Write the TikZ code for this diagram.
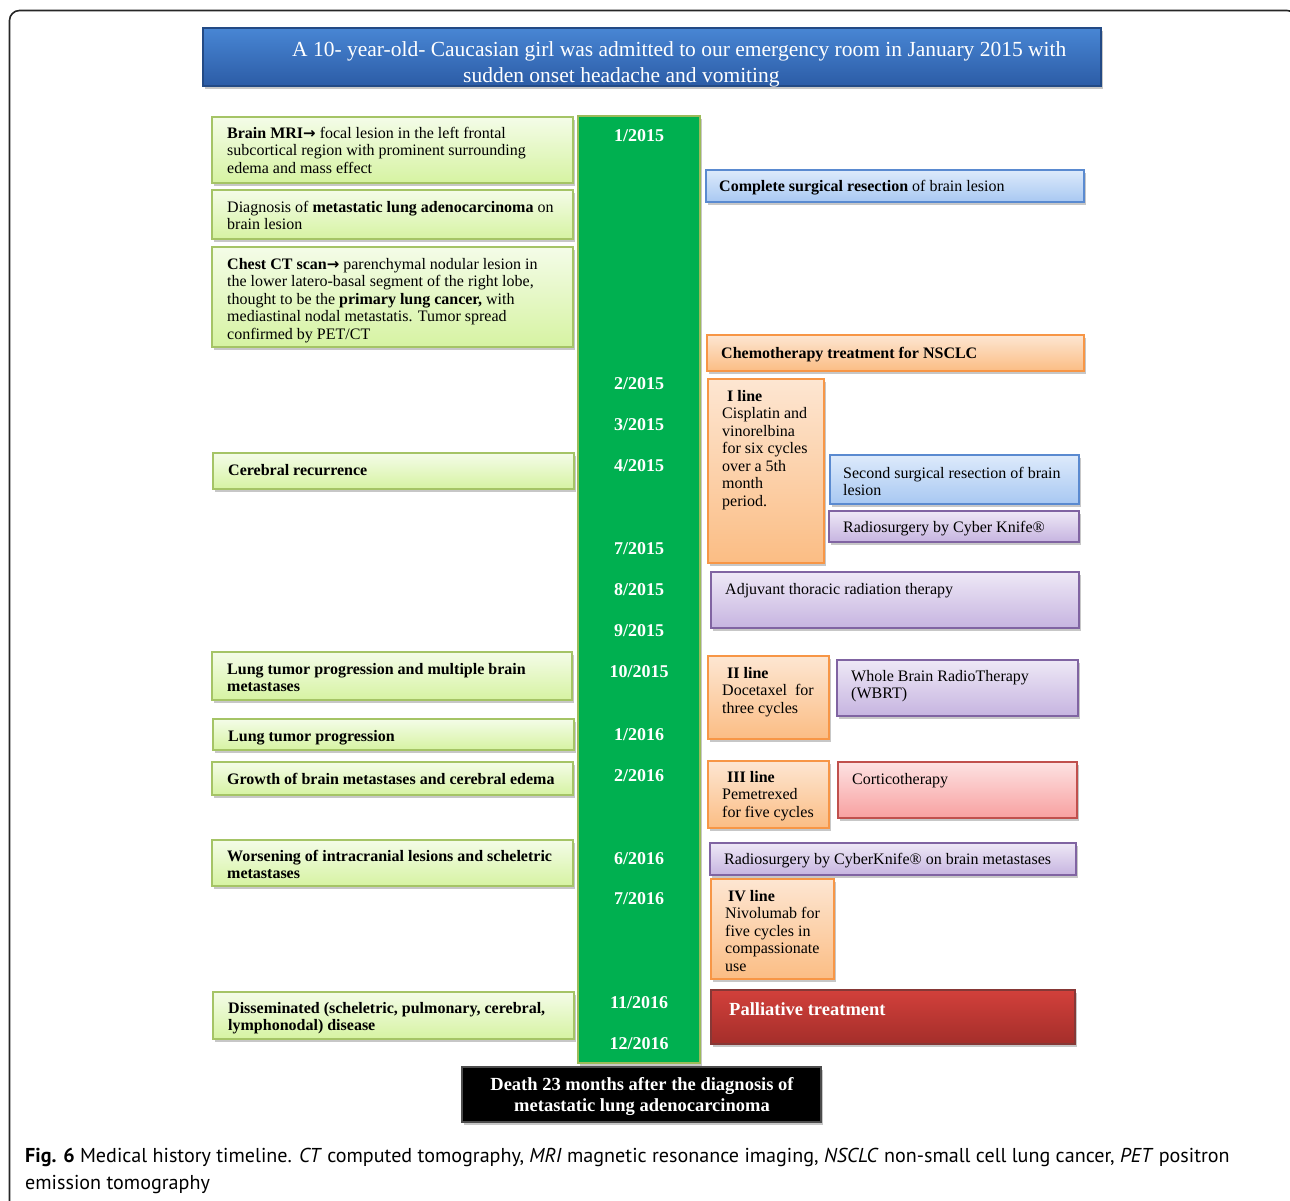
\documentclass[tikz,border=0pt]{standalone}
\usepackage{fontspec}
\setmainfont{Liberation Serif}
\newfontfamily\capfont{PT Sans}
\newfontfamily\arrfont{DejaVu Sans}
\newcommand{\rarr}{{\arrfont\bfseries\fontsize{15}{17.5}\selectfont →}}
\usetikzlibrary{shadows,calc}
\definecolor{gtop}{HTML}{F4FCE8}
\definecolor{gbot}{HTML}{D6F3A2}
\definecolor{gbrd}{HTML}{A5C466}
\definecolor{otop}{HTML}{FDE6D2}
\definecolor{obot}{HTML}{FBBD84}
\definecolor{obrd}{HTML}{F79646}
\definecolor{btop}{HTML}{DDEAFB}
\definecolor{bbot}{HTML}{A8C8F2}
\definecolor{bbrd}{HTML}{5A8AD0}
\definecolor{ptop}{HTML}{EEE8F6}
\definecolor{pbot}{HTML}{C6B4E0}
\definecolor{pbrd}{HTML}{8064A2}
\definecolor{rtop}{HTML}{FDE2E2}
\definecolor{rbot}{HTML}{F8A0A0}
\definecolor{rbrd}{HTML}{C0504D}
\definecolor{dtop}{HTML}{D2403B}
\definecolor{dbot}{HTML}{A42E2A}
\definecolor{htop}{HTML}{4886D4}
\definecolor{hbot}{HTML}{2C5CA6}
\definecolor{tgreen}{HTML}{00B050}
\definecolor{tbrd}{HTML}{9BBB59}
\tikzset{
  boxbase/.style={anchor=north west, inner sep=0, outer sep=0, line width=1.2pt,
    drop shadow={shadow xshift=2pt, shadow yshift=-3pt, opacity=0.22, fill=black}},
  gbox/.style={boxbase, draw=gbrd, top color=gtop, bottom color=gbot},
  obox/.style={boxbase, draw=obrd, top color=otop, bottom color=obot},
  bbox/.style={boxbase, draw=bbrd, top color=btop, bottom color=bbot},
  pbox/.style={boxbase, draw=pbrd, top color=ptop, bottom color=pbot},
  rbox/.style={boxbase, draw=rbrd, top color=rtop, bottom color=rbot},
  dbox/.style={boxbase, draw=rbrd!70!black, top color=dtop, bottom color=dbot},
  hbox/.style={boxbase, draw=hbot!80!black, top color=htop, bottom color=hbot},
  kbox/.style={boxbase, draw=black!70, fill=black},
  tbar/.style={boxbase, draw=tbrd, fill=tgreen},
  txt/.style={inner sep=0, anchor=base west, align=left, font=\fontsize{16}{17.5}\selectfont},
  btxt/.style={txt, font=\fontsize{16}{17.5}\selectfont\bfseries},
  datelbl/.style={inner sep=0, anchor=base, text=white, font=\fontsize{18}{20}\selectfont\bfseries},
}
% multi-line nodes: the base anchor is the baseline of the last line
\newcommand{\bx}[6]{\node[#2, minimum width={#5-#3}, minimum height={#6-#4}] (#1) at (#3,#4) {};}
\begin{document}
\begin{tikzpicture}[x=1pt,y=-1pt]
\useasboundingbox (0,0) rectangle (1290,1200);
\draw[line width=1.6pt, rounded corners=10pt, black!85] (9.5,10.5) rectangle (1297,1215);
% header
\bx{head}{hbox}{203}{28}{1101}{86}
\node[inner sep=0, anchor=base west, text=white, font=\fontsize{21.5}{26}\selectfont] (headA) at (292,56) {A 10- year-old- Caucasian girl was admitted to our emergency room in January 2015 with};
\node[inner sep=0, anchor=base west, text=white, font=\fontsize{21.5}{26}\selectfont] (headB) at (463,82) {sudden onset headache and vomiting};
% timeline bar
\bx{bar}{tbar}{578}{116}{700}{1063}
\node[datelbl] (d1) at (639,141) {1/2015};
\node[datelbl] (d2) at (639,389) {2/2015};
\node[datelbl] (d3) at (639,430) {3/2015};
\node[datelbl] (d4) at (639,471) {4/2015};
\node[datelbl] (d5) at (639,554) {7/2015};
\node[datelbl] (d6) at (639,595) {8/2015};
\node[datelbl] (d7) at (639,636) {9/2015};
\node[datelbl] (d8) at (639,677) {10/2015};
\node[datelbl] (d9) at (639,740) {1/2016};
\node[datelbl] (d10) at (639,781) {2/2016};
\node[datelbl] (d11) at (639,864) {6/2016};
\node[datelbl] (d12) at (639,904) {7/2016};
\node[datelbl] (d13) at (639,1008) {11/2016};
\node[datelbl] (d14) at (639,1049) {12/2016};
% left boxes
\bx{L1}{gbox}{212}{117}{573}{183}
\node[txt] (L1t) at (227,173) {\textbf{Brain MRI}\rarr{} focal lesion in the left frontal\\subcortical region with prominent surrounding\\edema and mass effect};
\bx{L2}{gbox}{212}{190}{573}{239}
\node[txt] (L2t) at (227,229.5) {Diagnosis of \textbf{metastatic lung adenocarcinoma} on\\brain lesion};
\bx{L3}{gbox}{212}{247}{573}{347}
\node[txt] (L3t) at (227,339) {\textbf{Chest CT scan}\rarr{} parenchymal nodular lesion in\\the lower latero-basal segment of the right lobe,\\thought to be the \textbf{primary lung cancer,} with\\mediastinal nodal metastatis. Tumor spread\\confirmed by PET/CT};
\bx{L4}{gbox}{213}{453}{574}{489}
\node[btxt] (L4t) at (228,475) {Cerebral recurrence};
\bx{L5}{gbox}{212}{652}{572}{700}
\node[btxt] (L5t) at (227,691.5) {Lung tumor progression and multiple brain\\metastases};
\bx{L6}{gbox}{213}{719}{574}{750}
\node[btxt] (L6t) at (228,741) {Lung tumor progression};
\bx{L7}{gbox}{212}{762}{573}{795}
\node[btxt] (L7t) at (227,784) {Growth of brain metastases and cerebral edema};
\bx{L8}{gbox}{212}{840}{573}{886}
\node[btxt] (L8t) at (227,878.5) {Worsening of intracranial lesions and scheletric\\metastases};
\bx{L9}{gbox}{213}{992}{574}{1039}
\node[btxt] (L9t) at (228,1030.5) {Disseminated (scheletric, pulmonary, cerebral,\\lymphonodal) disease};
% right boxes
\bx{R1}{bbox}{706}{170}{1084}{202}
\node[txt] (R1t) at (719,191) {\textbf{Complete surgical resection} of brain lesion};
\bx{R2}{obox}{707}{335}{1084}{371}
\node[btxt] (R2t) at (721,358) {Chemotherapy treatment for NSCLC};
\bx{R3}{obox}{708}{379}{824}{563}
\node[txt] (R3t) at (722,506) {\hspace*{5pt}\textbf{I line}\\Cisplatin and\\vinorelbina\\for six cycles\\over a 5th\\month\\period.};
\bx{R4}{bbox}{830}{455}{1079}{504}
\node[txt] (R4t) at (843,495.5) {Second surgical resection of brain\\lesion};
\bx{R5}{pbox}{829}{511}{1079}{542}
\node[txt] (R5t) at (843,532) {Radiosurgery by Cyber Knife®};
\bx{R6}{pbox}{711}{572}{1079}{628}
\node[txt] (R6t) at (725,594) {Adjuvant thoracic radiation therapy};
\bx{R7}{obox}{708}{656}{829}{739}
\node[txt] (R7t) at (722,713) {\hspace*{5pt}\textbf{II line}\\Docetaxel\ \ for\\three cycles};
\bx{R8}{pbox}{837}{660}{1078}{716}
\node[txt] (R8t) at (851,698.5) {Whole Brain RadioTherapy\\(WBRT)};
\bx{R9}{obox}{708}{761}{829}{828}
\node[txt] (R9t) at (722,817) {\hspace*{5pt}\textbf{III line}\\Pemetrexed\\for five cycles};
\bx{R10}{rbox}{838}{762}{1077}{818}
\node[txt] (R10t) at (852,784) {Corticotherapy};
\bx{R11}{pbox}{710}{843}{1076}{875}
\node[txt] (R11t) at (724,864) {Radiosurgery by CyberKnife® on brain metastases};
\bx{R12}{obox}{711}{879}{834}{979}
\node[txt] (R12t) at (725,971) {\hspace*{3pt}\textbf{IV line}\\Nivolumab for\\five cycles in\\compassionate\\use};
\bx{R13}{dbox}{711}{990}{1075}{1044}
\node[inner sep=0, anchor=base west, text=white, font=\fontsize{18.5}{21}\selectfont\bfseries] (R13t) at (729,1015) {Palliative treatment};
% death
\bx{death}{kbox}{462}{1067}{821}{1122}
\node[inner sep=0, anchor=base, align=center, text=white, font=\fontsize{18.5}{21}\selectfont\bfseries] (deatht) at (642,1111) {Death 23 months after the diagnosis of\\metastatic lung adenocarcinoma};
% caption
\node[inner sep=0, anchor=base west, align=left, font=\capfont\fontsize{20.1}{27}\selectfont] (cap) at (25,1189) {\textbf{Fig. 6} Medical history timeline. \textit{CT} computed tomography, \textit{MRI} magnetic resonance imaging, \textit{NSCLC} non-small cell lung cancer, \textit{PET} positron\\emission tomography};
\end{tikzpicture}
\end{document}
